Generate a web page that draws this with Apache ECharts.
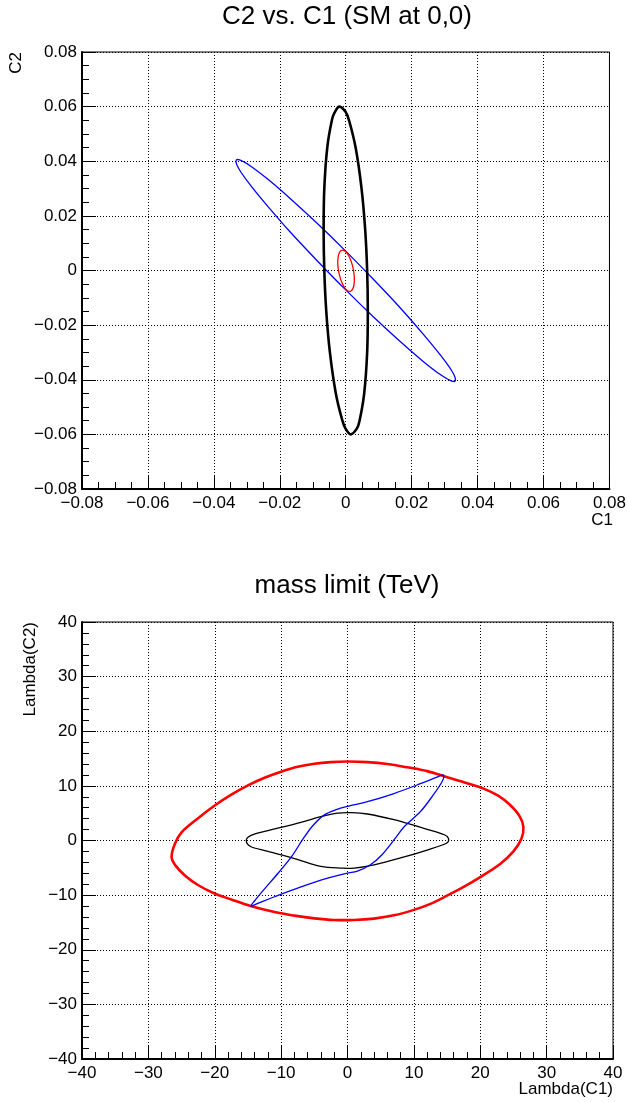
<!DOCTYPE html>
<html>
<head>
<meta charset="utf-8">
<script src="https://cdn.jsdelivr.net/npm/echarts@6/dist/echarts.min.js"></script>
<style>
  html, body { margin: 0; padding: 0; background: #fff; }
  #chart { width: 629px; height: 1102px; }
</style>
</head>
<body>
<div id="chart"></div>
<script>
// 上图: C2 vs. C1 (min, max, interval)
const c1Range = [-0.08, 0.08, 0.02]
const c2Range = [-0.08, 0.08, 0.02]
// 下图: mass limit (TeV)
const lam1Range = [-40, 40, 10]
const lam2Range = [-40, 40, 10]

// 上图轮廓 [C1, C2]
const topBlack = [
  [-0.0019, 0.060], [0.0000, 0.058], [0.0010, 0.055], [0.0030, 0.045], [0.0048, 0.030],
  [0.0059, 0.015], [0.0065, 0.000], [0.0067, -0.015], [0.0065, -0.030], [0.0056, -0.045],
  [0.0042, -0.055], [0.0033, -0.058], [0.0015, -0.060], [0.0000, -0.058], [-0.0010, -0.055],
  [-0.0030, -0.045], [-0.0048, -0.030], [-0.0059, -0.015], [-0.0065, 0.000], [-0.0067, 0.015],
  [-0.0065, 0.030], [-0.0056, 0.045], [-0.0042, 0.055], [-0.0033, 0.058]
]
const topBlue = [
  [0.0333, -0.0400], [0.0322, -0.0368], [0.0288, -0.0311], [0.0235, -0.0233], [0.0167, -0.0139],
  [0.0086, -0.0035], [0.0000, 0.0071], [-0.0086, 0.0172], [-0.0167, 0.0262], [-0.0235, 0.0333],
  [-0.0288, 0.0382], [-0.0322, 0.0405], [-0.0333, 0.0400], [-0.0322, 0.0368], [-0.0288, 0.0311],
  [-0.0235, 0.0233], [-0.0167, 0.0139], [-0.0086, 0.0035], [0.0000, -0.0071], [0.0086, -0.0172],
  [0.0167, -0.0262], [0.0235, -0.0333], [0.0288, -0.0382], [0.0322, -0.0405]
]
const topRed = [
  [-0.00065, 0.0074], [0.00033, 0.00645], [0.00127, 0.0045], [0.00203, 0.00185], [0.0025, -0.0011],
  [0.00261, -0.00389], [0.00233, -0.00611], [0.00171, -0.00741], [0.00085, -0.0076], [-0.000125, -0.00665],
  [-0.00107, -0.0047], [-0.00183, -0.00205], [-0.0023, 0.0009], [-0.00241, 0.00369], [-0.00213, 0.00591],
  [-0.00151, 0.00721]
]

// 下图轮廓 [Lambda(C1), Lambda(C2)]
const bottomRed = [
  [-26.5, -3.0], [-26.0, -0.6], [-25.0, 1.5], [-22.7, 3.9], [-19.9, 6.5], [-17.5, 8.4], [-15.0, 10.1],
  [-12.5, 11.5], [-10.0, 12.6], [-7.5, 13.5], [-5.0, 14.05], [-2.5, 14.35], [0.0, 14.45], [3.0, 14.35],
  [6.0, 14.0], [9.0, 13.4], [12.0, 12.7], [15.0, 11.6], [18.0, 10.5], [20.5, 9.5], [22.7, 8.2],
  [24.5, 6.5], [25.9, 4.5], [26.5, 2.5], [26.2, 0.3], [25.0, -2.0], [23.0, -4.3], [20.0, -6.7],
  [17.5, -8.5], [15.0, -10.1], [12.5, -11.6], [10.0, -12.7], [7.0, -13.7], [4.0, -14.3], [1.0, -14.55],
  [-2.0, -14.55], [-5.0, -14.25], [-8.0, -13.75], [-11.0, -13.1], [-14.6, -12.0], [-17.5, -10.8],
  [-20.2, -9.6], [-22.6, -8.1], [-24.5, -6.4], [-25.9, -4.6]
]
const bottomBlue = [
  [-14.54, -11.99], [-13.9, -10.9], [-12.6, -9.0], [-10.4, -5.9], [-8.4, -2.9], [-6.8, 0.1], [-5.3, 2.6],
  [-3.6, 4.6], [-1.6, 5.7], [0.2, 6.3], [3.0, 7.1], [7.0, 8.6], [11.0, 10.4], [13.5, 11.6], [14.44, 11.99],
  [14.3, 10.9], [12.9, 8.3], [11.0, 5.3], [8.6, 2.6], [7.0, 0.1], [5.2, -2.6], [3.4, -4.5], [1.5, -5.6],
  [-0.2, -6.0], [-3.0, -6.9], [-7.0, -8.5], [-11.0, -10.3], [-13.5, -11.5]
]
const bottomBlack = [
  [-15.25, 0.0], [-14.6, 0.9], [-12.0, 1.8], [-8.0, 3.0], [-4.0, 4.35], [-1.5, 5.0], [0.5, 5.1],
  [3.0, 4.85], [7.0, 3.8], [12.0, 2.05], [14.6, 1.05], [15.2, 0.4], [14.9, -0.5], [12.0, -1.75],
  [8.0, -3.2], [4.0, -4.45], [1.0, -5.05], [-1.0, -5.05], [-4.0, -4.75], [-8.0, -3.3], [-12.0, -2.0],
  [-14.6, -1.1]
]

const FONT = 'Liberation Sans, Arial, Helvetica, sans-serif'
const myChart = echarts.init(document.getElementById('chart'))

// 负号用长横线, 零只写 0
const fmt = (digits) => (v) => {
  if (Math.abs(v) < 1e-9) return '0'
  return (v < 0 ? '\u2212' : '') + Math.abs(v).toFixed(digits)
}

const makeAxis = (range, idx, digits, isY, minorSplit) => ({
  type: 'value',
  gridIndex: idx,
  min: range[0],
  max: range[1],
  interval: range[2],
  axisLine: { show: true, onZero: false, lineStyle: { color: '#000', width: 2 } },
  axisTick: { show: true, inside: true, length: isY ? 14 : 13, lineStyle: { color: '#000', width: 1 } },
  minorTick: { show: true, splitNumber: minorSplit, length: 7, lineStyle: { color: '#000', width: 1 } },
  axisLabel: {
    color: '#000',
    fontSize: 17,
    fontFamily: FONT,
    margin: isY ? 5 : 6,
    showMinLabel: true,
    showMaxLabel: true,
    formatter: fmt(digits)
  },
  splitLine: { show: true, lineStyle: { color: '#000', width: 1, type: [1, 2] } }
})

// 闭合轮廓: 用坐标轴换算后画闭合样条
const loop = (data, xi, color, width) => ({
  type: 'custom',
  xAxisIndex: xi,
  yAxisIndex: xi,
  data: data,
  encode: { x: 0, y: 1 },
  silent: true,
  clip: true,
  renderItem: (params, api) => {
    if (params.dataIndex !== 0) return null
    const pts = data.map(p => api.coord(p))
    const n = pts.length
    let d = 'M' + pts[0][0] + ' ' + pts[0][1]
    for (let i = 0; i < n; i++) {
      const p0 = pts[(i - 1 + n) % n], p1 = pts[i], p2 = pts[(i + 1) % n], p3 = pts[(i + 2) % n]
      const c1x = p1[0] + (p2[0] - p0[0]) / 6, c1y = p1[1] + (p2[1] - p0[1]) / 6
      const c2x = p2[0] - (p3[0] - p1[0]) / 6, c2y = p2[1] - (p3[1] - p1[1]) / 6
      d += 'C' + c1x + ' ' + c1y + ' ' + c2x + ' ' + c2y + ' ' + p2[0] + ' ' + p2[1]
    }
    d += 'Z'
    return {
      type: 'path',
      shape: { pathData: d },
      style: { stroke: color, lineWidth: width, fill: null, lineJoin: 'round' }
    }
  }
})

const txt = (text, x, y, size, align, vAlign, rot) => ({
  type: 'text',
  x: x,
  y: y,
  rotation: rot || 0,
  style: { text: text, fill: '#000', fontSize: size, fontFamily: FONT, align: align, verticalAlign: vAlign }
})

chartOption = {
  animation: false,
  backgroundColor: '#fff',
  grid: [
    { left: 82, top: 52, width: 531, height: 437, show: true, borderColor: '#000', borderWidth: 1 },
    { left: 82, top: 622, width: 531, height: 437, show: true, borderColor: '#000', borderWidth: 1 }
  ],
  xAxis: [
    makeAxis(c1Range, 0, 2, false, 4),
    makeAxis(lam1Range, 1, 0, false, 5)
  ],
  yAxis: [
    makeAxis(c2Range, 0, 2, true, 4),
    makeAxis(lam2Range, 1, 0, true, 5)
  ],
  series: [
    loop(topBlue, 0, '#0000ff', 1.3),
    loop(topBlack, 0, '#000000', 2.6),
    loop(topRed, 0, '#ff0000', 1.3),
    loop(bottomRed, 1, '#ff0000', 2.6),
    loop(bottomBlack, 1, '#000000', 1.3),
    loop(bottomBlue, 1, '#0000ff', 1.3)
  ],
  graphic: [
    txt('C2 vs. C1 (SM at 0,0)', 347, 17, 26, 'center', 'middle'),
    txt('C1', 613, 520, 17, 'right', 'middle'),
    txt('C2', 25, 52, 17, 'right', 'bottom', Math.PI / 2),
    txt('mass limit (TeV)', 347, 586, 26, 'center', 'middle'),
    txt('Lambda(C1)', 613, 1089, 17, 'right', 'middle'),
    txt('Lambda(C2)', 30, 622, 17, 'right', 'middle', Math.PI / 2)
  ]
}
myChart.setOption(chartOption)
window.addEventListener('resize', myChart.resize)
</script>
</body>
</html>
